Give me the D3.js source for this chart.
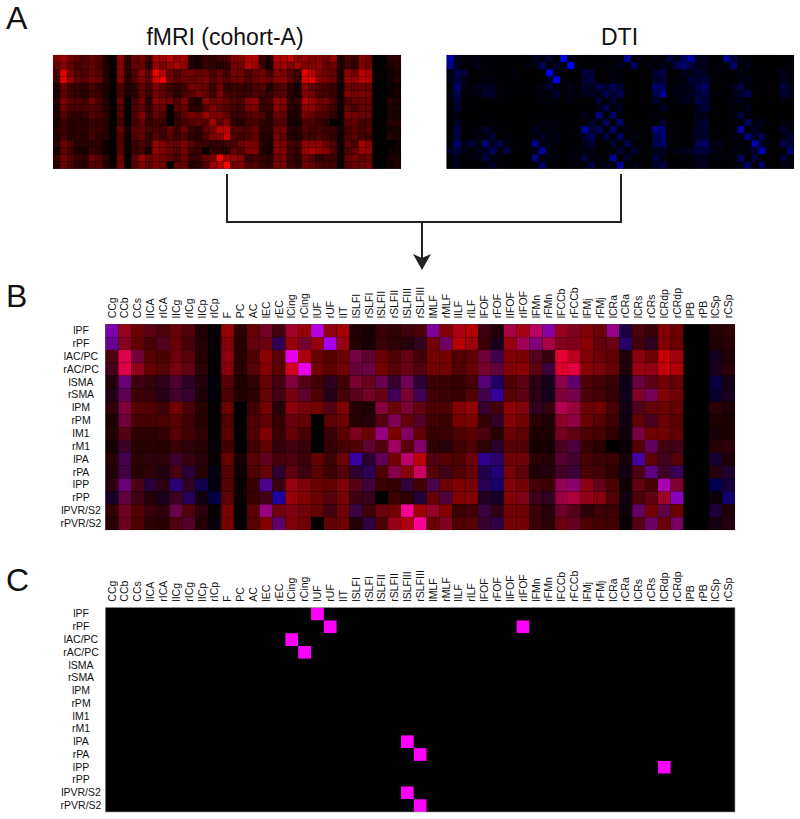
<!DOCTYPE html>
<html>
<head>
<meta charset="utf-8">
<title>fMRI and DTI matrices</title>
<script src="https://cdn.jsdelivr.net/npm/d3@7/dist/d3.min.js"></script>
<style>
body { margin: 0; background: #fff; }
text { font-family: "Liberation Sans", Arial, sans-serif; fill: #111; }
</style>
</head>
<body>
<div id="chart"></div>
<script>
//labels

var tracts = ['CCg','CCb','CCs','lICA','rICA','lICg','rICg','lICp','rICp','F','PC','AC','lEC','rEC','lCing','rCing','lUF','rUF','lIT','lSLFI','rSLFI','lSLFII','rSLFII','lSLFIII','rSLFIII','lMLF','rMLF','lILF','rILF','lFOF','rFOF','lIFOF','rIFOF','lFMn','rFMn','lFCCb','rFCCb','lFMj','rFMj','lCRa','rCRa','lCRs','rCRs','lCRdp','rCRdp','lPB','rPB','lCSp','rCSp'];
var regions = ['lPF','rPF','lAC/PC','rAC/PC','lSMA','rSMA','lPM','rPM','lM1','rM1','lPA','rPA','lPP','rPP','lPVR/S2','rPVR/S2'];

//fmri values, one row per region (red channel)
var fmri = [
[150,170,130,115,100,125,105,50,15,165,70,125,140,90,180,170,200,165,180,50,40,80,70,85,100,150,150,190,190,80,55,185,185,200,160,170,150,150,130,170,45,100,80,150,130,0,0,60,70],
[125,155,120,95,110,125,95,55,15,155,60,125,130,70,170,140,170,185,170,55,45,80,70,60,75,140,135,195,175,80,40,170,180,150,185,150,150,160,120,130,60,90,70,150,130,0,0,50,60],
[100,230,140,110,100,130,110,60,5,160,60,100,160,115,240,190,130,110,130,140,120,130,100,125,90,140,140,105,120,135,90,150,145,110,80,235,200,150,130,120,50,160,135,205,180,0,0,35,50],
[90,230,165,120,110,140,120,65,5,155,60,110,150,115,220,240,135,115,135,125,130,140,110,130,105,135,135,105,125,140,120,150,160,115,80,225,230,155,145,125,50,170,165,205,190,0,0,40,60],
[55,130,85,75,70,100,70,55,5,110,50,70,125,90,150,110,90,70,90,145,130,125,80,135,65,85,80,75,95,110,50,100,115,65,40,160,120,100,90,80,25,130,120,135,125,0,0,20,35],
[50,120,85,75,60,90,80,45,0,100,55,65,125,90,140,120,100,60,95,115,140,125,90,145,90,90,85,80,105,90,75,110,115,65,40,150,140,100,90,75,30,150,140,150,135,0,0,20,40],
[70,150,110,105,90,135,95,60,5,130,0,90,135,60,160,140,140,105,150,60,50,155,130,145,120,100,100,150,165,80,90,160,150,70,75,190,170,130,135,95,35,105,125,130,125,0,0,65,50],
[50,135,95,95,100,110,90,60,5,105,0,100,120,75,130,125,0,115,130,60,60,110,150,125,110,90,85,140,145,75,75,155,140,65,50,160,165,130,110,85,30,120,95,130,115,0,0,50,45],
[55,110,70,70,75,110,90,70,5,115,0,100,150,80,125,100,0,80,115,145,130,170,145,150,120,80,85,100,115,100,60,130,120,50,50,140,120,100,95,70,30,145,135,135,120,0,0,45,45],
[40,85,60,65,60,80,70,60,15,90,0,90,120,75,90,80,0,75,95,105,120,105,180,115,155,70,60,90,100,70,65,110,105,40,40,100,100,80,60,0,25,110,125,90,90,0,0,60,65],
[60,90,65,70,70,85,80,60,20,125,40,110,120,95,100,85,125,85,130,80,65,120,140,200,200,105,110,100,130,70,65,135,135,65,60,110,90,95,80,80,40,95,115,90,110,0,0,40,45],
[50,90,60,70,55,95,65,60,15,110,30,100,125,70,115,85,115,85,110,70,65,100,155,155,215,110,90,105,125,55,50,140,115,50,55,90,85,100,90,70,35,100,115,90,80,0,0,60,50],
[65,130,100,60,70,65,70,30,5,110,25,80,100,80,170,150,130,120,150,110,90,85,75,75,90,100,130,150,140,60,40,150,140,90,85,165,160,160,125,100,30,120,95,185,150,0,0,0,35],
[40,120,90,55,45,85,60,30,0,115,25,80,90,50,170,150,130,110,140,85,80,0,85,70,55,125,105,150,150,55,40,150,150,85,75,170,190,165,150,105,30,100,120,175,160,0,0,25,30],
[75,135,105,80,70,130,105,65,20,140,0,115,170,135,150,135,125,90,135,80,85,130,135,250,175,170,150,80,90,80,70,135,135,80,60,130,110,65,85,85,30,125,140,120,130,0,0,45,50],
[60,130,100,65,60,105,110,55,20,140,0,110,150,120,150,135,0,120,130,55,70,100,170,190,255,130,150,100,110,80,70,140,140,80,65,130,125,100,90,90,20,110,130,130,140,0,0,35,55]
];

//dti values, same layout (blue channel)
var dti = [
[190,50,10,35,25,20,20,15,10,15,5,10,60,30,65,10,230,30,15,10,10,15,10,25,15,170,10,30,5,30,20,90,40,120,180,50,50,10,10,160,90,25,20,5,10,0,0,15,10],
[165,55,10,15,50,15,20,10,10,20,5,35,30,110,10,70,25,255,30,5,20,20,15,20,50,10,120,5,30,15,50,25,110,140,90,45,45,5,25,30,130,20,50,5,10,0,0,10,15],
[30,100,80,5,5,25,20,10,5,30,5,5,5,5,240,25,5,5,5,90,70,10,10,35,15,5,5,5,5,80,100,5,5,50,30,75,50,15,20,10,15,35,15,15,25,0,0,50,15],
[45,95,45,5,10,30,30,15,5,25,5,5,5,5,50,240,10,5,5,80,90,10,15,35,30,5,5,5,5,70,80,10,15,30,80,65,85,15,20,10,15,30,40,15,15,0,0,40,25],
[20,140,30,20,40,65,55,20,20,15,5,10,20,30,85,40,10,50,15,70,45,100,70,110,80,10,10,5,5,140,120,5,35,35,45,100,130,15,15,15,45,90,40,15,15,0,0,90,40],
[40,110,10,20,35,65,70,15,20,10,5,5,15,35,30,70,5,40,20,45,60,40,110,70,110,10,15,5,5,100,170,10,35,30,50,80,100,25,15,15,45,60,110,15,15,0,0,70,50],
[20,80,5,5,15,5,15,5,10,5,0,10,5,20,25,25,5,30,5,15,5,80,20,70,30,5,5,5,5,70,25,10,25,50,30,100,80,5,5,10,35,45,20,5,5,0,0,20,15],
[5,80,10,10,10,5,10,5,5,5,0,10,5,5,25,10,0,10,5,5,20,30,110,20,60,5,5,5,5,10,60,10,10,5,15,60,90,5,5,5,30,10,50,5,5,0,0,5,5],
[10,35,5,5,10,15,10,10,5,5,0,5,5,10,15,15,0,20,5,45,5,150,5,120,15,5,5,5,5,30,5,5,10,5,5,50,30,10,5,5,20,90,5,5,5,0,0,20,5],
[10,60,5,5,5,10,20,10,15,5,0,5,5,25,30,25,0,15,5,5,70,25,120,20,130,5,25,5,5,10,70,5,15,5,10,50,80,15,5,0,15,15,120,30,40,0,0,15,25],
[10,100,5,25,20,65,30,20,5,5,5,5,50,20,30,20,5,10,5,180,70,110,10,130,20,30,5,5,5,160,130,10,20,10,15,70,65,10,15,5,15,180,10,50,20,0,0,70,20],
[20,90,5,10,30,30,80,5,30,10,10,5,15,70,25,35,5,10,15,70,110,15,95,20,120,5,40,5,5,100,140,15,20,15,25,60,80,10,10,5,30,30,150,60,110,0,0,30,70],
[25,140,35,80,35,140,55,100,30,5,5,5,160,30,30,25,5,5,20,40,80,5,10,80,5,100,15,5,5,110,130,20,5,15,5,110,130,30,45,5,5,30,10,190,70,0,0,100,80],
[60,85,40,20,45,50,110,30,90,15,5,5,40,180,20,10,5,25,15,35,45,0,5,5,80,15,80,5,15,50,60,20,40,45,50,90,85,40,30,5,30,20,35,65,200,0,0,20,130],
[10,50,10,25,25,95,25,25,5,5,0,5,150,25,35,20,5,30,15,90,15,30,10,170,10,60,5,5,5,90,40,5,10,20,20,60,45,15,15,10,20,120,10,90,5,0,0,80,20],
[15,50,5,10,10,30,65,15,25,5,0,5,5,130,20,15,0,15,5,15,90,15,40,30,170,5,50,5,5,70,90,5,10,20,15,30,55,10,10,10,10,40,120,5,120,0,0,30,30]
];

//significant cells for panel C, [region, tract]
var overlap = [['lPF','lUF'],['rPF','rUF'],['rPF','rIFOF'],['lAC/PC','lCing'],['rAC/PC','rCing'],['lPA','lSLFIII'],['rPA','rSLFIII'],['lPP','lCRdp'],['lPVR/S2','lSLFIII'],['rPVR/S2','rSLFIII']];

//drawing area

var width = 800,
	height = 819;

var svg = d3.select('#chart')
	.append('svg')
	.attr('width', width)
	.attr('height', height)
	.style('display', 'block');

//value to colour channel, mid values come out darker
var channel = d3.scalePow().exponent(1.3).domain([0, 255]).range([0, 255]);

//draw one grid of cells, color(rowIndex, colIndex) gives the fill
var heatmap = function(box, color, edge){
	var x = d3.scaleBand().domain(tracts).range([box.left, box.right]);
	var y = d3.scaleBand().domain(regions).range([box.top, box.bottom]);
	var g = svg.append('g');

	//black backing so the seams between cells stay dark
	g.append('rect')
		.attr('x', box.left)
		.attr('y', box.top)
		.attr('width', box.right - box.left)
		.attr('height', box.bottom - box.top)
		.attr('fill', '#000');

	var rows = g.selectAll('g').data(regions).enter().append('g');
	rows.selectAll('rect')
		.data(function(r, i){ return tracts.map(function(t, j){ return {r:r, t:t, i:i, j:j}; }); })
		.enter()
		.append('rect')
		.attr('x', function(d){ return x(d.t); })
		.attr('y', function(d){ return y(d.r); })
		.attr('width', x.bandwidth())
		.attr('height', y.bandwidth())
		.attr('fill', function(d){ return color(d.i, d.j); })
		.attr('stroke', edge)
		.attr('stroke-width', 0.5);
	return {x:x, y:y};
};

//tract labels on top, region labels centred in the left margin
var addAxes = function(s, box){
	var top = svg.append('g')
		.attr('transform', 'translate(0,' + box.top + ')')
		.call(d3.axisTop(s.x).tickSize(0));
	top.select('.domain').remove();
	top.selectAll('text')
		.attr('transform', 'rotate(-90)')
		.attr('x', 6)
		.attr('y', 0)
		.attr('dy', '0.35em')
		.style('text-anchor', 'start')
		.style('font-size', '10.5px')
		.style('font-family', '"Liberation Sans", Arial, sans-serif');

	var left = svg.append('g')
		.attr('transform', 'translate(' + box.left + ',0)')
		.call(d3.axisLeft(s.y).tickSize(0));
	left.select('.domain').remove();
	left.selectAll('text')
		.attr('x', 81 - box.left)
		.style('text-anchor', 'middle')
		.style('font-size', '10.5px')
		.style('font-family', '"Liberation Sans", Arial, sans-serif');
};

var seam = 'rgba(0,0,0,0.2)';

//panel A
heatmap({left:53, right:401, top:55, bottom:168.7}, function(i, j){ return d3.rgb(channel(fmri[i][j]), 0, 0); }, seam);
heatmap({left:446.7, right:794, top:55, bottom:168.7}, function(i, j){ return d3.rgb(0, 0, channel(dti[i][j])); }, seam);

//panel B is the two matrices overlaid
var boxB = {left:105.5, right:735, top:324.3, bottom:530};
addAxes(heatmap(boxB, function(i, j){ return d3.rgb(channel(fmri[i][j]), 0, channel(dti[i][j])); }, seam), boxB);

//panel C
var boxC = {left:105.5, right:735, top:607.7, bottom:812};
var hits = {};
overlap.forEach(function(d){ hits[d[0] + '|' + d[1]] = true; });
addAxes(heatmap(boxC, function(i, j){
	return hits[regions[i] + '|' + tracts[j]] ? '#ff00ff' : '#000';
}, 'none'), boxC);

svg.append('rect')
	.attr('x', boxC.left)
	.attr('y', boxC.top)
	.attr('width', boxC.right - boxC.left)
	.attr('height', boxC.bottom - boxC.top)
	.attr('fill', 'none')
	.attr('stroke', '#999')
	.attr('stroke-width', 0.6);

//titles and panel letters
var titles = [['fMRI (cohort-A)', 225, 45], ['DTI', 619.5, 45]];
svg.selectAll('text.title').data(titles).enter().append('text')
	.classed('title', true)
	.attr('x', function(d){ return d[1]; })
	.attr('y', function(d){ return d[2]; })
	.attr('text-anchor', 'middle')
	.style('font-size', '23px')
	.text(function(d){ return d[0]; });

var letters = [['A', 29], ['B', 307], ['C', 591]];
svg.selectAll('text.letter').data(letters).enter().append('text')
	.classed('letter', true)
	.attr('x', 6)
	.attr('y', function(d){ return d[1]; })
	.style('font-size', '32px')
	.text(function(d){ return d[0]; });

//connector and arrow
svg.append('path')
	.attr('d', 'M227,174V222H621V174M422,222V258')
	.attr('fill', 'none')
	.attr('stroke', '#222')
	.attr('stroke-width', 2);
svg.append('path')
	.attr('d', 'M413,254L422,258L431,254L422,270Z')
	.attr('fill', '#222');
</script>
</body>
</html>
